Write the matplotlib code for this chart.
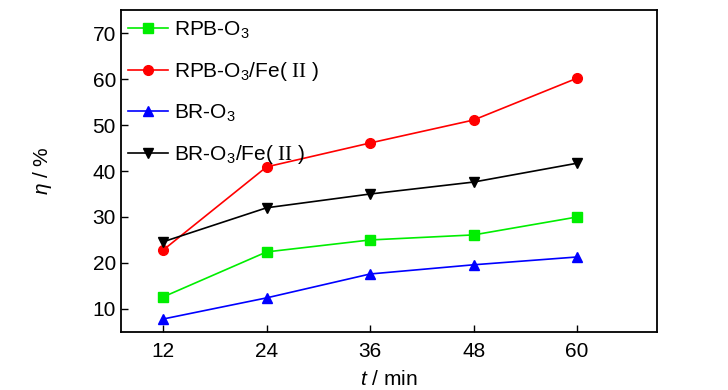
import matplotlib
matplotlib.use("Agg")
import matplotlib.pyplot as plt

plt.rcParams['font.family'] = ['Liberation Sans', 'DejaVu Sans']
plt.rcParams['mathtext.fontset'] = 'custom'
plt.rcParams['mathtext.rm'] = 'Liberation Sans'
plt.rcParams['mathtext.it'] = 'Liberation Sans:italic'
plt.rcParams['mathtext.sf'] = 'Liberation Serif'

# data
t = [12, 24, 36, 48, 60]
rpb_o3 = [12.6, 22.4, 25.0, 26.1, 30.0]
rpb_o3_fe = [22.8, 40.9, 46.1, 51.1, 60.2]
br_o3 = [7.8, 12.4, 17.6, 19.6, 21.3]
br_o3_fe = [24.6, 32.0, 35.0, 37.6, 41.7]

fig = plt.figure(figsize=(7.28, 3.9), dpi=100)
ax = fig.add_axes([0.166, 0.149, 0.737, 0.825])

ax.plot(t, rpb_o3, color='#00ee00', marker='s', ms=7, lw=1.2, label='RPB-O$_3$')
ax.plot(t, rpb_o3_fe, color='#ff0000', marker='o', ms=7, lw=1.2,
        label='RPB-O$_3$/Fe( $\\mathsf{II}$ )')
ax.plot(t, br_o3, color='#0000ff', marker='^', ms=7, lw=1.2, label='BR-O$_3$')
ax.plot(t, br_o3_fe, color='black', marker='v', ms=7, lw=1.2,
        label='BR-O$_3$/Fe( $\\mathsf{II}$ )')

ax.set_xlim(7.1, 69.3)
ax.set_ylim(5, 75)
ax.set_xticks(t)
ax.set_yticks([10, 20, 30, 40, 50, 60, 70])
ax.tick_params(direction='in', length=5, width=1, labelsize=15, top=False, right=False)
ax.tick_params(axis='x', pad=7)
for s in ax.spines.values():
    s.set_linewidth(1.3)

ax.set_xlabel('$t$ / min', fontsize=15, labelpad=7)
ax.set_ylabel('$\\eta$ / %', fontsize=15, labelpad=28)

ax.legend(loc='upper left', bbox_to_anchor=(-0.01, 1.01), frameon=False, fontsize=15,
          labelspacing=0.93, handlelength=1.9, handletextpad=0.3, borderaxespad=0.2)

fig.savefig('out.png', dpi=100)
